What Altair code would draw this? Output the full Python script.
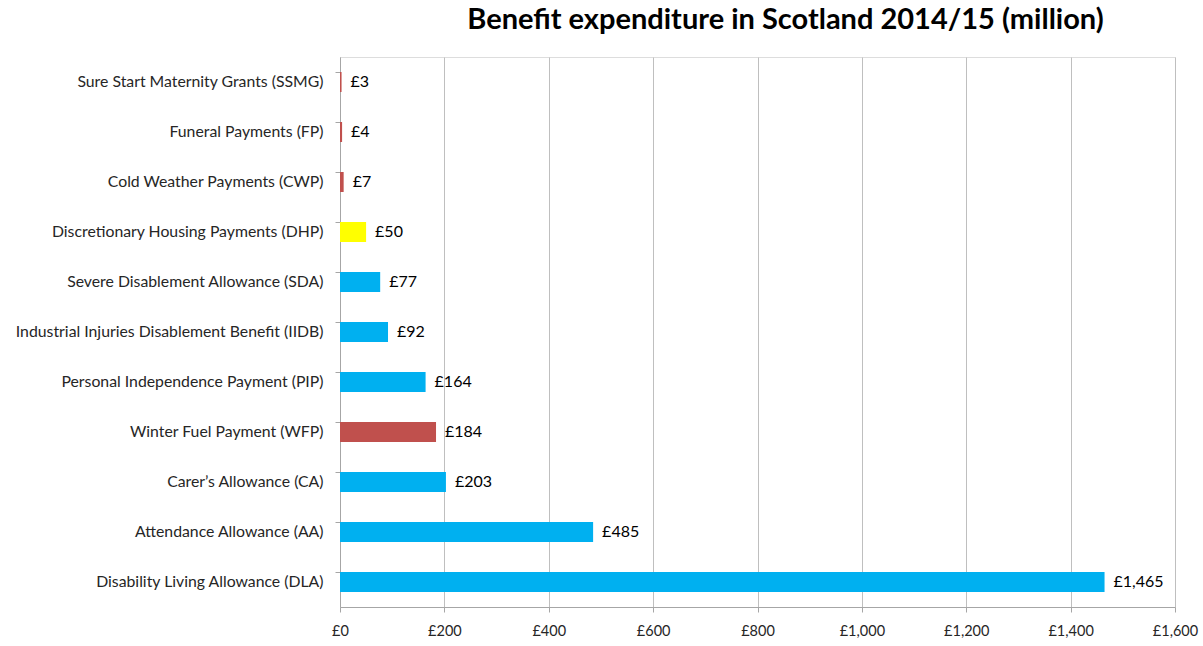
import altair as alt
import pandas as pd

categories = [
    "Sure Start Maternity Grants (SSMG)",
    "Funeral Payments (FP)",
    "Cold Weather Payments (CWP)",
    "Discretionary Housing Payments (DHP)",
    "Severe Disablement Allowance (SDA)",
    "Industrial Injuries Disablement Benefit (IIDB)",
    "Personal Independence Payment (PIP)",
    "Winter Fuel Payment (WFP)",
    "Carer’s Allowance (CA)",
    "Attendance Allowance (AA)",
    "Disability Living Allowance (DLA)",
]
values = [3, 4, 7, 50, 77, 92, 164, 184, 203, 485, 1465]
colors = ["#C0504D", "#C0504D", "#C0504D", "#FFFF00", "#00B0F0", "#00B0F0",
          "#00B0F0", "#C0504D", "#00B0F0", "#00B0F0", "#00B0F0"]
x_ticks = [0, 200, 400, 600, 800, 1000, 1200, 1400, 1600]

df = pd.DataFrame({"cat": categories, "val": values, "col": colors})
df["label"] = ["£" + f"{v:,}" for v in values]

FONT = "Lato"

y = alt.Y("cat:N", sort=categories, title=None,
          scale=alt.Scale(paddingInner=0.6, paddingOuter=0.3),
          axis=alt.Axis(labelFont=FONT, labelFontSize=15.8, labelColor="#262626",
                        labelPadding=12, labelLimit=0, bandPosition=0,
                        tickColor="#A6A6A6", tickSize=5, domainColor="#A6A6A6",
                        grid=False))
x = alt.X("val:Q", title=None,
          scale=alt.Scale(domain=[0, 1600], nice=False),
          axis=alt.Axis(values=x_ticks, labelExpr="'£' + format(datum.value, ',')",
                        labelFont=FONT, labelFontSize=14.5, labelColor="#262626",
                        labelPadding=12, labelFlush=False, tickColor="#A6A6A6",
                        tickSize=5, domainColor="#A6A6A6", gridColor="#BFBFBF",
                        gridWidth=1))

bars = alt.Chart(df).mark_bar(size=20).encode(
    x=x, y=y, color=alt.Color("col:N", scale=None))
labels = alt.Chart(df).mark_text(align="left", dx=9, font=FONT, fontSize=16,
                                 color="#000000").encode(
    x=alt.X("val:Q"), y=alt.Y("cat:N", sort=categories), text="label:N")

chart = alt.layer(bars, labels).properties(
    width=835, height=550,
    title=alt.TitleParams("Benefit expenditure in Scotland 2014/15 (million)",
                          font=FONT, fontSize=29, fontWeight="bold", color="#000000",
                          anchor="middle", dx=28, offset=22),
    padding={"left": 340, "top": 57, "right": 28, "bottom": 39},
    autosize=alt.AutoSizeParams(type="none"),
).configure_view(stroke=None).configure(background="white")

chart.save("out.html", embed_options={"renderer": "svg", "actions": False})
